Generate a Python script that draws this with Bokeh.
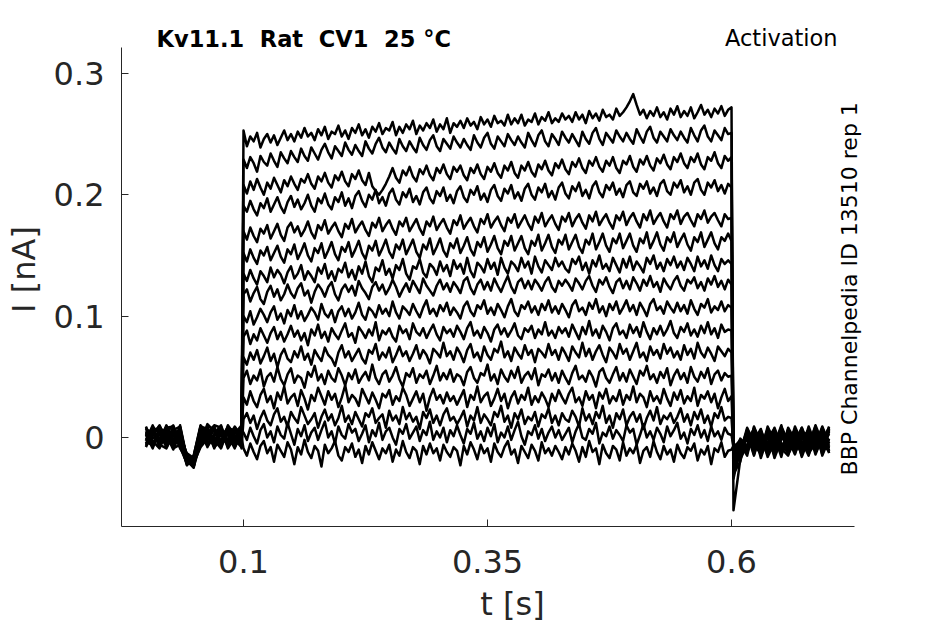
from bokeh.plotting import figure
from bokeh.models import Range1d, FixedTicker, Label, ColumnDataSource
from bokeh.embed import file_html
from bokeh.resources import INLINE
import numpy as np

# ---------------- data (current in pA, time in s) ----------------
t_pre = [0.000, 0.007, 0.014, 0.021, 0.028, 0.035, 0.042, 0.049, 0.056, 0.063, 0.070, 0.077, 0.084, 0.091, 0.098]
t_post = [0.602, 0.609, 0.616, 0.623, 0.630, 0.637, 0.644, 0.651, 0.658, 0.665, 0.672, 0.679, 0.686, 0.693, 0.700]
step_start, step_end = 0.1, 0.6

sweep_01 = dict(
    pre=[3, -7, 8, -4, 5, -9, -18, -22, 6, -3, 9, -6, 4, -8, 2],
    step=[253, 240, 248, 244, 251, 239, 246, 250, 243, 249, 241, 247, 253, 245, 250, 244,
          252, 247, 255, 248, 251, 245, 254, 249, 256, 246, 252, 250, 257, 248, 253, 246,
          255, 251, 258, 249, 254, 247, 256, 252, 259, 250, 255, 253, 260, 249, 256, 251,
          258, 254, 261, 250, 257, 253, 259, 255, 262, 252, 258, 254, 263, 251, 259, 256,
          261, 255, 263, 257, 260, 254, 264, 258, 262, 256, 265, 259, 261, 257, 266, 258,
          263, 259, 266, 257, 262, 260, 267, 258, 264, 261, 268, 259, 263, 260, 267, 262,
          265, 260, 268, 262, 266, 259, 269, 263, 267, 261, 270, 264, 266, 262, 271, 265,
          268, 272, 277, 283, 274, 266, 270, 263, 269, 265, 272, 264, 268, 262, 271, 266,
          273, 264, 269, 265, 272, 263, 268, 274, 266, 270, 264, 271, 267, 273, 265, 270,
          272],
    post=[-60, -18, -6, 4, -12, 2, -9, 6, -14, -3, 8, -11, 1, -7, 3])
sweep_02 = dict(
    pre=[-5, 6, -2, 9, -8, 4, -20, -15, 10, 2, -7, 5, -4, 8, -3],
    step=[229, 222, 231, 226, 219, 232, 227, 224, 234, 228, 223, 235, 230, 226, 236, 231,
          227, 238, 232, 228, 239, 234, 229, 237, 242, 235, 230, 240, 236, 232, 243, 237,
          233, 241, 236, 232, 244, 238, 234, 242, 247, 239, 235, 243, 238, 234, 246, 240,
          236, 244, 239, 235, 247, 241, 237, 245, 249, 240, 236, 246, 242, 238, 248, 243,
          239, 246, 241, 237, 249, 243, 239, 247, 251, 242, 238, 248, 244, 240, 250, 245,
          241, 248, 243, 239, 251, 245, 240, 249, 253, 244, 240, 250, 246, 241, 252, 247,
          243, 250, 245, 240, 252, 246, 242, 251, 255, 246, 241, 251, 247, 243, 253, 248,
          244, 251, 246, 242, 254, 248, 243, 252, 256, 247, 243, 252, 248, 244, 254, 249,
          245, 252, 247, 243, 255, 249, 244, 253, 257, 248, 244, 253, 249, 245, 255, 250,
          251],
    post=[-34, -8, 3, -15, 5, -10, 1, -16, 7, -5, -12, 4, -8, 6, -13])
sweep_03 = dict(
    pre=[7, -3, -9, 4, 10, -5, -16, -24, 3, 8, -2, -9, 6, 1, -6],
    step=[208, 201, 211, 204, 213, 206, 200, 210, 205, 214, 208, 202, 212, 207, 215, 209,
          204, 213, 210, 217, 209, 205, 215, 211, 218, 210, 206, 216, 212, 219, 211, 207,
          217, 213, 220, 212, 208, 218, 207, 203, 200, 204, 209, 215, 222, 214, 210, 220,
          216, 223, 215, 211, 221, 217, 224, 216, 212, 222, 218, 225, 217, 213, 223, 219,
          224, 216, 212, 222, 218, 225, 217, 213, 223, 219, 226, 218, 214, 224, 220, 227,
          218, 214, 224, 220, 227, 219, 215, 225, 221, 228, 220, 216, 226, 222, 229, 221,
          217, 227, 223, 230, 222, 218, 228, 224, 231, 223, 219, 228, 224, 231, 222, 218,
          228, 225, 232, 223, 219, 229, 225, 232, 224, 220, 230, 226, 233, 225, 221, 231,
          227, 234, 226, 222, 231, 227, 234, 225, 221, 231, 228, 235, 226, 222, 232, 228,
          231],
    post=[-30, -20, 7, -5, -14, 6, -17, -2, 3, -13, 0, -6, 9, -15, -1])
sweep_04 = dict(
    pre=[-2, 9, 3, -8, 1, 7, -22, -18, -4, 11, 5, -3, 9, -7, 4],
    step=[191, 186, 195, 188, 183, 193, 189, 197, 186, 192, 198, 190, 185, 194, 199, 190,
          196, 188, 193, 200, 191, 186, 197, 193, 201, 192, 188, 198, 194, 202, 191, 197,
          189, 199, 203, 195, 190, 200, 196, 204, 193, 198, 191, 201, 205, 196, 192, 202,
          198, 205, 194, 199, 192, 202, 206, 197, 193, 203, 199, 206, 195, 200, 193, 203,
          207, 198, 194, 204, 200, 207, 196, 201, 194, 204, 208, 199, 195, 205, 201, 208,
          197, 202, 195, 205, 209, 200, 196, 206, 202, 209, 198, 203, 196, 206, 210, 201,
          197, 207, 203, 210, 199, 204, 197, 207, 211, 202, 198, 208, 204, 210, 200, 205,
          198, 208, 211, 202, 199, 209, 205, 211, 201, 206, 199, 209, 212, 203, 200, 210,
          206, 212, 202, 207, 200, 210, 213, 204, 200, 210, 206, 212, 203, 208, 201, 209,
          206],
    post=[-26, -4, -13, 8, -3, -11, 5, -9, -15, 4, -7, 7, -12, -2, 8])
sweep_05 = dict(
    pre=[5, -8, 6, 2, -10, 3, -14, -21, 9, -5, 1, 7, -8, 3, 10],
    step=[170, 163, 173, 166, 161, 172, 168, 175, 164, 170, 176, 167, 162, 173, 177, 169,
          174, 166, 171, 178, 169, 164, 175, 171, 179, 168, 173, 177, 170, 165, 176, 172,
          180, 169, 174, 178, 171, 166, 177, 173, 181, 170, 175, 179, 172, 167, 178, 174,
          181, 170, 175, 180, 172, 167, 178, 174, 182, 171, 176, 180, 173, 168, 179, 175,
          183, 172, 177, 181, 174, 169, 180, 176, 184, 173, 178, 182, 175, 170, 181, 177,
          184, 173, 178, 183, 176, 171, 182, 177, 185, 174, 179, 183, 176, 171, 182, 178,
          185, 174, 180, 184, 177, 172, 183, 178, 186, 175, 180, 184, 177, 172, 183, 179,
          186, 175, 181, 185, 178, 173, 184, 179, 187, 176, 181, 185, 178, 173, 184, 180,
          187, 176, 182, 185, 179, 174, 184, 180, 187, 177, 182, 185, 179, 174, 184, 180,
          181],
    post=[-28, -14, 5, -9, 3, -16, -4, 8, -6, -11, 6, -14, 2, -9, -4])
sweep_06 = dict(
    pre=[-6, 2, 10, -3, 7, -7, -19, -25, 2, 6, -9, 3, 5, -2, -8],
    step=[152, 145, 155, 148, 143, 154, 150, 157, 146, 152, 158, 149, 144, 155, 151, 159,
          147, 153, 160, 150, 145, 156, 152, 160, 148, 154, 161, 151, 146, 157, 153, 161,
          149, 155, 162, 152, 147, 158, 154, 162, 150, 156, 163, 153, 148, 159, 155, 163,
          151, 157, 163, 153, 148, 159, 155, 164, 151, 157, 164, 154, 149, 160, 156, 164,
          152, 158, 165, 155, 150, 161, 157, 165, 153, 159, 166, 156, 151, 162, 158, 166,
          154, 160, 166, 156, 151, 162, 158, 167, 154, 160, 167, 157, 152, 163, 159, 167,
          155, 161, 167, 157, 152, 163, 159, 168, 155, 161, 168, 158, 153, 164, 160, 168,
          156, 162, 168, 158, 153, 164, 160, 169, 156, 162, 169, 159, 154, 165, 161, 169,
          157, 163, 168, 159, 154, 165, 161, 169, 157, 163, 169, 160, 155, 165, 162, 168,
          162],
    post=[-24, -3, -10, 6, -17, 0, 7, -13, 1, 5, -16, -1, -10, 4, -7])
sweep_07 = dict(
    pre=[9, -4, -1, 6, -6, 10, -17, -20, -7, 4, 8, -5, -1, 9, 1],
    step=[135, 129, 138, 131, 126, 137, 133, 128, 140, 132, 138, 134, 127, 136, 141, 131,
          135, 142, 130, 137, 133, 128, 140, 135, 143, 131, 137, 129, 139, 136, 144, 132,
          138, 130, 141, 135, 145, 133, 128, 140, 137, 146, 134, 139, 131, 142, 138, 147,
          135, 130, 141, 139, 147, 136, 132, 143, 140, 134, 145, 137, 142, 133, 146, 139,
          143, 135, 148, 137, 132, 144, 141, 136, 147, 139, 144, 134, 148, 140, 135, 145,
          142, 137, 148, 140, 145, 135, 149, 141, 136, 146, 142, 138, 148, 141, 145, 139,
          136, 147, 143, 149, 138, 144, 135, 146, 141, 150, 139, 143, 137, 148, 142, 136,
          147, 140, 149, 138, 145, 141, 136, 148, 143, 150, 139, 144, 137, 147, 142, 149,
          140, 145, 138, 148, 143, 137, 149, 141, 146, 139, 150, 142, 137, 147, 143, 146,
          143],
    post=[-22, -16, 2, -7, 6, -8, -12, 3, -10, 9, -4, -9, 7, -14, 5])
sweep_08 = dict(
    pre=[1, 7, -6, -9, 3, -2, -23, -16, 8, -8, 3, 10, -6, 4, 7],
    step=[118, 122, 112, 119, 124, 114, 110, 120, 125, 116, 122, 113, 118, 126, 119, 115,
          123, 127, 117, 121, 111, 120, 126, 122, 116, 124, 128, 118, 113, 122, 126, 120,
          125, 117, 129, 123, 119, 114, 124, 128, 121, 126, 118, 123, 130, 124, 116, 122,
          127, 120, 129, 124, 119, 131, 125, 121, 117, 125, 130, 122, 127, 120, 128, 124,
          119, 129, 132, 123, 118, 126, 130, 122, 128, 121, 131, 125, 120, 127, 133, 124,
          119, 128, 131, 123, 129, 122, 130, 126, 121, 128, 132, 124, 120, 129, 125, 130,
          126, 121, 131, 127, 122, 129, 133, 125, 120, 130, 126, 132, 124, 119, 128, 131,
          123, 129, 122, 132, 127, 121, 130, 125, 133, 124, 128, 120, 131, 126, 122, 129,
          133, 125, 121, 130, 127, 132, 123, 128, 121, 131, 126, 133, 124, 129, 122, 130,
          126],
    post=[-20, -6, -12, 1, -9, 4, -15, 9, -3, -8, 2, -13, -5, 8, -11])
sweep_09 = dict(
    pre=[-8, 4, 9, 1, -4, 5, -15, -23, 5, 0, -6, 6, 2, -9, 5],
    step=[100, 95, 104, 93, 99, 106, 101, 95, 103, 108, 97, 102, 94, 105, 100, 109,
          98, 104, 96, 101, 107, 103, 97, 110, 102, 99, 105, 95, 104, 108, 100, 106,
          98, 103, 111, 101, 97, 107, 104, 99, 109, 102, 106, 100, 112, 103, 98, 108,
          105, 101, 110, 104, 99, 107, 113, 102, 106, 100, 109, 104, 111, 101, 107, 103,
          98, 108, 112, 104, 100, 109, 106, 113, 102, 107, 101, 110, 105, 99, 108, 114,
          104, 100, 109, 106, 112, 103, 108, 101, 110, 105, 113, 103, 108, 102, 110, 105,
          99, 109, 113, 104, 107, 101, 111, 106, 114, 103, 108, 100, 110, 105, 112, 102,
          107, 113, 104, 109, 101, 111, 106, 100, 110, 114, 105, 108, 102, 112, 107, 103,
          111, 104, 109, 102, 113, 106, 101, 110, 107, 114, 103, 108, 105, 112, 104, 109,
          107],
    post=[-18, -11, 6, -14, 2, -5, 8, -7, -12, 1, -15, 5, -2, -10, 6])
sweep_10 = dict(
    pre=[4, -5, 2, 8, 9, -8, -21, -19, -2, 9, 7, -8, 10, 2, -4],
    step=[83, 88, 77, 85, 80, 90, 84, 78, 86, 91, 81, 87, 79, 85, 92, 83,
          88, 80, 86, 76, 89, 84, 93, 82, 87, 79, 90, 85, 81, 88, 94, 83,
          86, 78, 91, 87, 82, 89, 84, 95, 80, 88, 85, 90, 83, 79, 92, 86,
          89, 81, 94, 87, 84, 90, 82, 88, 93, 85, 80, 91, 86, 89, 83, 92,
          87, 81, 90, 95, 84, 88, 82, 91, 86, 79, 89, 93, 85, 90, 83, 88,
          94, 84, 81, 90, 87, 92, 82, 89, 85, 95, 84, 88, 82, 91, 86, 90,
          83, 93, 87, 81, 91, 85, 96, 84, 89, 82, 92, 87, 80, 90, 94, 85,
          88, 82, 93, 86, 91, 83, 95, 87, 81, 90, 85, 92, 84, 89, 96, 86,
          82, 91, 87, 94, 84, 89, 83, 92, 86, 95, 85, 90, 82, 93, 87, 89,
          88],
    post=[-16, -1, -8, 5, -13, 9, -3, -11, 6, -6, 3, -8, 10, -4, -12])
sweep_11 = dict(
    pre=[-3, 10, -7, 3, -7, 8, -18, -22, 7, -6, 2, 4, -3, -5, 9],
    step=[66, 60, 70, 64, 72, 61, 67, 74, 63, 69, 58, 68, 73, 65, 62, 71,
          66, 75, 64, 69, 60, 72, 67, 63, 74, 68, 65, 59, 70, 76, 66, 71,
          63, 68, 73, 65, 61, 72, 69, 77, 64, 70, 66, 74, 62, 68, 75, 67,
          71, 63, 69, 76, 65, 72, 68, 61, 73, 70, 66, 78, 67, 71, 64, 74,
          69, 62, 72, 77, 66, 70, 63, 75, 68, 64, 73, 70, 79, 66, 71, 63,
          74, 69, 65, 76, 68, 72, 62, 73, 70, 66, 77, 68, 72, 64, 74, 69,
          63, 75, 70, 66, 78, 67, 73, 64, 71, 76, 68, 62, 74, 70, 65, 77,
          69, 73, 64, 71, 78, 66, 70, 63, 75, 68, 72, 65, 77, 69, 74, 66,
          71, 64, 76, 68, 73, 65, 78, 70, 66, 74, 69, 63, 75, 71, 67, 73,
          70],
    post=[-14, -13, 1, -3, 7, -12, 2, -5, -9, 7, -10, 9, -6, 3, -8])
sweep_12 = dict(
    pre=[8, -1, 5, -6, 4, -4, -13, -17, 1, 5, -8, -2, 7, 6, -1],
    step=[49, 55, 44, 51, 47, 56, 42, 50, 53, 46, 58, 48, 43, 52, 57, 45,
          51, 49, 41, 54, 50, 59, 47, 52, 44, 55, 49, 46, 57, 51, 43, 53,
          48, 56, 45, 50, 54, 47, 60, 49, 44, 52, 55, 46, 51, 58, 48, 42,
          53, 50, 57, 45, 52, 49, 55, 44, 51, 59, 47, 53, 48, 56, 46, 52,
          50, 43, 54, 58, 49, 45, 53, 51, 60, 47, 52, 44, 56, 50, 46, 55,
          49, 58, 45, 51, 54, 48, 57, 43, 52, 50, 56, 47, 53, 45, 55, 49,
          44, 53, 59, 48, 51, 46, 55, 50, 42, 54, 57, 49, 45, 52, 58, 47,
          53, 46, 56, 50, 44, 55, 51, 59, 48, 52, 45, 54, 49, 57, 43, 51,
          56, 48, 53, 45, 58, 50, 46, 54, 49, 57, 44, 52, 55, 47, 53, 50,
          51],
    post=[-12, -5, -15, 9, -6, 3, -10, 5, -1, -14, 5, -4, 1, -12, 7])
sweep_13 = dict(
    pre=[-7, 3, -4, 10, -2, 6, -20, -24, -5, 3, 10, 8, -9, 0, 3],
    step=[33, 27, 38, 30, 25, 35, 40, 29, 34, 24, 37, 31, 42, 28, 33, 36,
          26, 39, 32, 23, 35, 30, 41, 34, 27, 38, 31, 36, 25, 33, 43, 29,
          35, 32, 26, 40, 34, 28, 37, 31, 24, 36, 33, 39, 27, 34, 30, 41,
          35, 26, 32, 38, 29, 36, 22, 33, 40, 31, 35, 28, 37, 30, 34, 27,
          33, 39, 25, 35, 31, 42, 29, 34, 37, 26, 32, 40, 30, 36, 24, 33,
          38, 28, 35, 31, 41, 27, 34, 29, 37, 32, 25, 36, 30, 39, 33, 28,
          36, 41, 29, 33, 26, 38, 31, 35, 24, 37, 32, 40, 28, 34, 30, 39,
          27, 35, 31, 42, 29, 36, 33, 25, 38, 30, 34, 28, 40, 32, 26, 37,
          31, 39, 28, 34, 30, 41, 26, 35, 32, 38, 29, 36, 24, 33, 40, 30,
          34],
    post=[-10, -9, 4, -11, 1, -7, 6, -14, 8, -2, -9, 2, -11, 5, -3])
sweep_14 = dict(
    pre=[2, -9, 7, -2, 8, 1, -16, -19, 4, -7, 0, -6, 3, 7, -9],
    step=[15, 20, 12, 18, 7, 16, 22, 14, 10, 19, 24, 13, 17, 9, 21, 16,
          12, 25, 18, 11, 15, 20, 8, 17, 23, 14, 19, 10, 16, 26, 13, 18,
          11, 21, 15, 9, 20, 17, 24, 12, 16, 19, 8, 22, 14, 18, 11, 25,
          15, 20, 13, 17, 7, 21, 16, 23, 12, 18, 10, 19, 24, 14, 17, 11,
          16, 22, 9, 18, 14, 25, 12, 19, 15, 10, 21, 17, 26, 13, 18, 8,
          20, 15, 23, 11, 17, 14, 21, 9, 19, 16, 24, 12, 18, 10, 20, 15,
          13, 22, 17, 9, 24, 14, 19, 11, 21, 16, 26, 12, 18, 8, 20, 15,
          23, 10, 17, 21, 13, 19, 7, 16, 22, 14, 25, 11, 18, 15, 20, 12,
          17, 24, 13, 19, 10, 21, 15, 23, 12, 18, 9, 20, 16, 25, 14, 17,
          16],
    post=[-9, -2, -7, 3, -8, 7, -13, 1, -6, 6, -3, -15, 4, -6, 9])
sweep_15 = dict(
    pre=[6, 5, -8, 7, -9, -6, -22, -15, 9, 7, -4, 9, -7, -3, 6],
    step=[4, -2, 8, 1, -5, 6, 11, 0, 5, -4, 9, 2, -1, 12, 3, -6,
          7, 1, 10, -3, 4, 8, -2, 6, 13, 0, 5, -5, 9, 2, -1, 11,
          4, 7, -3, 3, 10, -4, 6, 1, 12, -2, 5, 8, 0, -6, 7, 3,
          11, -1, 4, 9, -3, 6, 2, 13, -2, 5, 0, 8, -4, 6, 1, 10,
          2, -5, 7, 3, 12, -1, 5, -3, 8, 1, 11, -4, 4, 0, 9, -2,
          6, 13, 1, -6, 5, 2, 10, -1, 7, -3, 4, 9, 0, 6, -2, 3,
          8, -4, 5, 11, 0, -2, 7, 3, 12, -5, 4, 1, 9, -1, 6, 2,
          -3, 10, 4, 7, -6, 2, 11, 0, 5, -2, 8, 3, -4, 9, 1, 6,
          12, -1, 4, -5, 7, 2, 10, 0, 6, -3, 9, 1, 5, -2, 8, 3,
          2],
    post=[-8, -12, 8, -4, -2, -14, 4, -8, 2, -11, 8, -5, -7, 9, -5])
sweep_16 = dict(
    pre=[-4, -6, 4, -5, 6, 9, -18, -21, -8, -1, 6, 1, 8, 5, 0],
    step=[-9, -15, -5, -12, -18, -7, -3, -13, -8, -20, -6, -11, -16, -4, -10, -22,
          -8, -14, -2, -12, -17, -7, -11, -24, -6, -13, -9, -3, -15, -19, -8, -12,
          -5, -16, -10, -21, -7, -14, -4, -11, -18, -9, -13, -6, -20, -10, -15, -3,
          -12, -17, -8, -11, -22, -7, -14, -5, -13, -9, -19, -6, -12, -16, -8, -11,
          -23, -7, -14, -4, -10, -18, -6, -13, -9, -20, -5, -12, -16, -8, -3, -14,
          -10, -21, -7, -12, -17, -6, -11, -19, -4, -13, -9, -15, -7, -12, -18, -8,
          -14, -5, -11, -20, -8, -16, -3, -12, -9, -22, -6, -13, -17, -7, -10, -19,
          -4, -15, -9, -13, -6, -21, -11, -8, -16, -3, -12, -18, -7, -14, -10, -20,
          -6, -13, -17, -8, -11, -5, -19, -10, -14, -7, -22, -9, -12, -4, -16, -11,
          -10],
    post=[-7, -4, -3, 7, -10, 5, -6, 10, -13, 3, -1, 6, -14, 0, -9])

sweeps = [sweep_01, sweep_02, sweep_03, sweep_04, sweep_05, sweep_06, sweep_07, sweep_08,
          sweep_09, sweep_10, sweep_11, sweep_12, sweep_13, sweep_14, sweep_15, sweep_16]

x_ticks = [0.1, 0.35, 0.6]
x_tick_labels = ["0.1", "0.35", "0.6"]
y_ticks = [0.0, 0.1, 0.2, 0.3]
y_tick_labels = ["0", "0.1", "0.2", "0.3"]
x_axis_extent = (-0.025, 0.726)
y_axis_extent = (-0.0734, 0.3215)

NB = "\u00a0"
title_text = "Kv11.1" + NB * 2 + "Rat" + NB * 2 + "CV1" + NB * 2 + "25" + NB + "°C"
protocol_text = "Activation"
source_text = "BBP Channelpedia ID 13510 rep 1"

# ---------------- build sources ----------------
xs, ys = [], []
for s in sweeps:
    t_step = np.linspace(step_start, step_end, len(s["step"]))
    x = list(t_pre) + list(t_step) + list(t_post)
    y = [v / 1000.0 for v in (s["pre"] + s["step"] + s["post"])]
    xs.append(x)
    ys.append(y)
src = ColumnDataSource(dict(xs=xs, ys=ys))

FONT = "DejaVu Sans"
AX = "#262626"

# frame extends beyond the drawn axes so that the header texts are not clipped
p = figure(frame_width=782, frame_height=514,
           x_range=Range1d(-0.025, 0.7762), y_range=Range1d(-0.0734, 0.3502),
           output_backend="svg", toolbar_location=None,
           min_border_left=121, min_border_top=12, min_border_right=15, min_border_bottom=96)
p.outline_line_color = None
p.background_fill_color = "white"
p.border_fill_color = "white"
p.xgrid.visible = False
p.ygrid.visible = False

p.multi_line(xs="xs", ys="ys", source=src, line_color="black", line_width=2.5, line_join="round")

for ax in (p.xaxis[0], p.yaxis[0]):
    ax.axis_line_color = AX
    ax.axis_line_width = 1
    ax.major_tick_line_color = AX
    ax.major_tick_in = 7
    ax.major_tick_out = 0
    ax.minor_tick_line_color = None
    ax.major_label_text_font = FONT
    ax.major_label_text_font_size = "32px"
    ax.major_label_text_color = AX
    ax.axis_label_text_font = FONT
    ax.axis_label_text_font_size = "32px"
    ax.axis_label_text_font_style = "normal"
    ax.axis_label_text_color = AX

p.xaxis.bounds = x_axis_extent
p.yaxis.bounds = y_axis_extent
p.xaxis.ticker = FixedTicker(ticks=x_ticks)
p.xaxis.major_label_overrides = dict(zip(x_ticks, x_tick_labels))
p.yaxis.ticker = FixedTicker(ticks=y_ticks)
p.yaxis.major_label_overrides = dict(zip(y_ticks, y_tick_labels))
p.xaxis.axis_label = "t [s]"
p.yaxis.axis_label = "I [nA]"
p.xaxis.major_label_standoff = 23
p.yaxis.major_label_standoff = 17
p.xaxis.axis_label_standoff = 9
p.yaxis.axis_label_standoff = 8

p.add_layout(Label(x=0.0109, y=0.3280, text=title_text, text_font=FONT, text_font_size="22.5px",
                   text_font_style="bold", text_color="black", text_baseline="alphabetic",
                   text_align="left"))
p.add_layout(Label(x=0.7087, y=0.3290, text=protocol_text, text_font=FONT, text_font_size="22.5px",
                   text_color="black", text_baseline="alphabetic", text_align="right"))
p.add_layout(Label(x=0.7210, y=-0.0313, text=source_text, text_font=FONT, text_font_size="22px",
                   text_color="black", text_baseline="alphabetic", text_align="left",
                   angle=np.pi / 2))

open("out.html", "w").write(file_html(p, INLINE))
